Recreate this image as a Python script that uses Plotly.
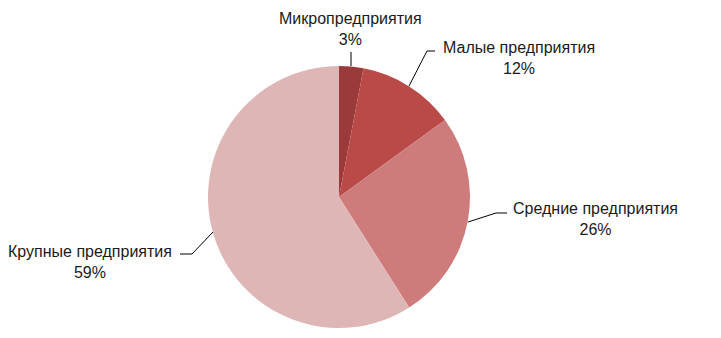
import plotly.graph_objects as go

W, H = 721, 338
categories = ["Микропредприятия", "Малые предприятия", "Средние предприятия", "Крупные предприятия"]
values = [3, 12, 26, 59]
colors = ["#9b3a3a", "#b94a48", "#cd7b7b", "#dfb6b6"]

# pie geometry in pixels (layout)
cx, cy, r = 339, 197, 131

fig = go.Figure(go.Pie(
    labels=categories, values=values, sort=False, direction="clockwise", rotation=0,
    marker=dict(colors=colors, line=dict(width=0)),
    textinfo="none", hoverinfo="label+percent", showlegend=False,
    domain=dict(x=[(cx - r) / W, (cx + r) / W], y=[(H - cy - r) / H, (H - cy + r) / H]),
))

total = sum(values)
pcts = [round(v / total * 100) for v in values]

# label centers and leader lines (pixel layout)
label_pos = [(350, 29), (519, 58), (595, 219), (90, 262)]
leaders = [
    [(351, 66), (351, 52)],
    [(409, 86), (427, 51), (435, 51)],
    [(468, 222), (496, 213), (507, 213)],
    [(213, 232), (192, 254), (180, 254)],
]

def px(x):
    return x / W

def py(y):
    return 1 - y / H

for name, p, (lx, ly) in zip(categories, pcts, label_pos):
    fig.add_annotation(x=px(lx), y=py(ly), xref="paper", yref="paper",
                       text=f"{name}<br>{p}%", showarrow=False, align="center",
                       xanchor="center", yanchor="middle",
                       font=dict(family="Liberation Sans", size=16, color="#1a1a1a"))

for pts in leaders:
    path = "M " + " L ".join(f"{px(x)},{py(y)}" for x, y in pts)
    fig.add_shape(type="path", path=path, xref="paper", yref="paper",
                  line=dict(color="#000000", width=1))

fig.update_layout(width=W, height=H, margin=dict(l=0, r=0, t=0, b=0),
                  paper_bgcolor="white", plot_bgcolor="white")
fig.write_html("out.html")
